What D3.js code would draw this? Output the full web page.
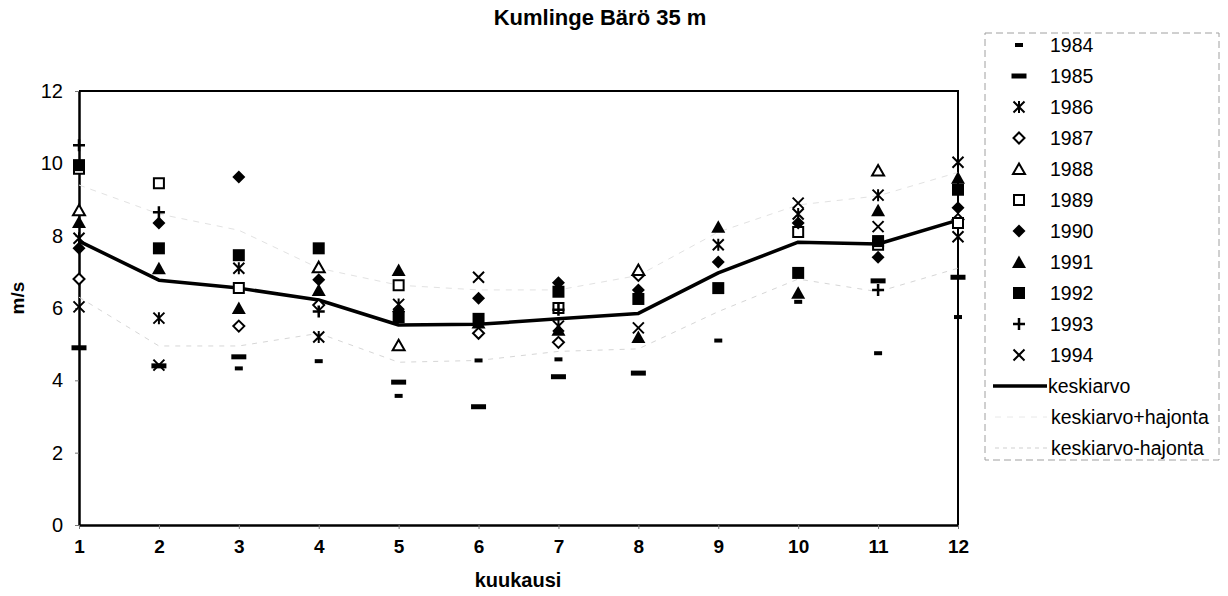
<!DOCTYPE html>
<html>
<head>
<meta charset="utf-8">
<script src="https://cdn.jsdelivr.net/npm/d3@7"></script>
<style>
  body { margin: 0; background: #fff; }
  text { font-family: Arial, "Liberation Sans", sans-serif; fill: #000; }
</style>
</head>
<body>
<svg id="chart" width="1228" height="596"></svg>
<script>
// Monthly mean wind speed (m/s) at Kumlinge Bärö, 35 m, per year
const months = [1, 2, 3, 4, 5, 6, 7, 8, 9, 10, 11, 12];
const yTicks = [0, 2, 4, 6, 8, 10, 12];
const years = ["1984", "1985", "1986", "1987", "1988", "1989", "1990", "1991", "1992", "1993", "1994"];

const v1984 = [null, null, 4.33, 4.53, 3.57, 4.55, 4.58, null, 5.1, 6.17, 4.75, 5.75];
const v1985 = [4.9, 4.4, 4.65, null, 3.95, 3.27, 4.1, 4.2, null, null, 6.75, 6.85];
const v1986 = [7.93, 5.72, 7.1, 5.2, 6.1, null, 5.5, null, 7.75, 8.6, 9.12, 7.97];
const v1987 = [6.8, null, 5.5, 6.08, null, 5.3, 5.05, 6.9, null, null, null, 8.45];
const v1988 = [8.7, null, null, 7.13, 4.97, null, null, 7.05, null, null, 9.8, null];
const v1989 = [9.85, 9.45, 6.55, null, 6.63, null, 6.0, null, null, 8.1, 7.75, 8.35];
const v1990 = [7.65, 8.35, 9.62, 6.78, 5.9, 6.27, 6.7, 6.5, 7.27, 8.35, 7.4, 8.77];
const v1991 = [8.38, 7.1, 6.0, 6.5, 7.05, 5.6, 5.4, 5.2, 8.25, 6.42, 8.7, 9.6];
const v1992 = [9.95, 7.65, 7.46, 7.65, 5.75, 5.7, 6.45, 6.25, 6.55, 6.97, 7.85, 9.27];
const v1993 = [10.5, 8.65, null, 5.9, null, null, 5.95, null, null, null, 6.5, null];
const v1994 = [6.03, 4.42, null, null, null, 6.85, null, 5.45, null, 8.9, 8.25, 10.03];

const keskiarvo      = [7.85, 6.77, 6.55, 6.22, 5.53, 5.55, 5.7, 5.85, 6.97, 7.82, 7.77, 8.43];
const keskiarvoPlus  = [9.4, 8.6, 8.15, 7.1, 6.63, 6.5, 6.5, 6.9, 8.1, 8.85, 9.1, 9.75];
const keskiarvoMinus = [6.3, 4.95, 4.95, 5.3, 4.5, 4.55, 4.8, 4.87, 5.9, 6.8, 6.45, 7.1];

const yearValues = [v1984, v1985, v1986, v1987, v1988, v1989, v1990, v1991, v1992, v1993, v1994];

// ---- marker shapes ----
const shape = {
  dashSmall: { draw(c) { c.rect(-4, -2, 8, 4); } },
  dashWide:  { draw(c) { c.rect(-7.5, -2.5, 15, 5); } },
  asterisk:  { draw(c) { const r = 5.5; c.moveTo(-r, -r); c.lineTo(r, r); c.moveTo(-r, r); c.lineTo(r, -r); c.moveTo(0, -r - 0.5); c.lineTo(0, r + 0.5); } },
  diamond:   { draw(c) { const w = 6.5, h = 6.5; c.moveTo(0, -h); c.lineTo(w, 0); c.lineTo(0, h); c.lineTo(-w, 0); c.closePath(); } },
  triangle:  { draw(c) { c.moveTo(0, -6.5); c.lineTo(7, 6); c.lineTo(-7, 6); c.closePath(); } },
  square:    { draw(c) { c.rect(-6, -6, 12, 12); } },
  plus:      { draw(c) { const r = 6; c.moveTo(-r, 0); c.lineTo(r, 0); c.moveTo(0, -r); c.lineTo(0, r); } },
  cross:     { draw(c) { const r = 5.5; c.moveTo(-r, -r); c.lineTo(r, r); c.moveTo(-r, r); c.lineTo(r, -r); } }
};
const hollow = {
  diamond:  { draw(c) { const w = 5.5; c.moveTo(0, -w); c.lineTo(w, 0); c.lineTo(0, w); c.lineTo(-w, 0); c.closePath(); } },
  triangle: { draw(c) { c.moveTo(0, -5.5); c.lineTo(6, 5); c.lineTo(-6, 5); c.closePath(); } },
  square:   { draw(c) { c.rect(-5, -5, 10, 10); } }
};

const styles = [
  { type: shape.dashSmall, fill: "#000", stroke: "none" },
  { type: shape.dashWide,  fill: "#000", stroke: "none" },
  { type: shape.asterisk,  fill: "none", stroke: "#000", sw: 2 },
  { type: hollow.diamond,  fill: "#fff", stroke: "#000", sw: 2 },
  { type: hollow.triangle, fill: "#fff", stroke: "#000", sw: 2 },
  { type: hollow.square,   fill: "#fff", stroke: "#000", sw: 2 },
  { type: shape.diamond,   fill: "#000", stroke: "none" },
  { type: shape.triangle,  fill: "#000", stroke: "none" },
  { type: shape.square,    fill: "#000", stroke: "none" },
  { type: shape.plus,      fill: "none", stroke: "#000", sw: 2.5 },
  { type: shape.cross,     fill: "none", stroke: "#000", sw: 2 }
];

const svg = d3.select("#chart");
const plotL = 79, plotR = 958, plotT = 91, plotB = 525;

const x = d3.scaleLinear().domain([1, 12]).range([plotL, plotR]);
const y = d3.scaleLinear().domain([0, 12]).range([plotB, plotT]);

// title
svg.append("text").attr("x", 600).attr("y", 25).attr("text-anchor", "middle")
  .style("font-size", "22px").style("font-weight", "bold").text("Kumlinge Bärö 35 m");

// frame (top and right edges)
svg.append("path")
  .attr("d", `M${plotL},${plotT}H${plotR}V${plotB}`)
  .attr("fill", "none").attr("stroke", "#000").attr("stroke-width", 2);

// axes
const yAxis = svg.append("g").attr("transform", `translate(${plotL},0)`)
  .call(d3.axisLeft(y).tickValues(yTicks).tickSize(4).tickSizeOuter(0).tickPadding(12));
yAxis.selectAll("text").style("font-size", "20px");
const xAxis = svg.append("g").attr("transform", `translate(0,${plotB})`)
  .call(d3.axisBottom(x).tickValues(months).tickSize(4).tickSizeOuter(0).tickPadding(11));
xAxis.selectAll("text").style("font-size", "19px").style("font-weight", "bold");
[yAxis, xAxis].forEach(a => {
  a.select(".domain").attr("stroke-width", 2.5);
  a.selectAll(".tick line").attr("stroke", "#777").attr("stroke-width", 1);
});

svg.append("text").attr("x", 518).attr("y", 587).attr("text-anchor", "middle")
  .style("font-size", "20px").style("font-weight", "bold").text("kuukausi");
svg.append("text").attr("transform", "translate(24,298) rotate(-90)").attr("text-anchor", "middle")
  .style("font-size", "19px").style("font-weight", "bold").text("m/s");

// mean and mean ± deviation lines (deviation lines are very faint)
const line = d3.line().x((d, i) => x(months[i])).y(d => y(d));
svg.append("path").attr("d", line(keskiarvoPlus)).attr("fill", "none")
  .attr("stroke", "#e2e2e2").attr("stroke-width", 1).attr("stroke-dasharray", "6,6");
svg.append("path").attr("d", line(keskiarvoMinus)).attr("fill", "none")
  .attr("stroke", "#d6d6d6").attr("stroke-width", 1).attr("stroke-dasharray", "5,6");
svg.append("path").attr("d", line(keskiarvo)).attr("fill", "none")
  .attr("stroke", "#000").attr("stroke-width", 3.5).attr("stroke-linejoin", "round");

// yearly markers
const sym = d3.symbol().size(144);
yearValues.forEach((vals, k) => {
  const st = styles[k];
  svg.append("g").selectAll("path")
    .data(vals.map((v, i) => ({ m: months[i], v })).filter(d => d.v != null))
    .join("path")
    .attr("transform", d => `translate(${x(d.m)},${y(d.v)})`)
    .attr("d", sym.type(st.type)())
    .attr("fill", st.fill).attr("stroke", st.stroke).attr("stroke-width", st.sw || 0);
});

// legend
const lg = svg.append("g");
lg.append("rect").attr("x", 985).attr("y", 33).attr("width", 234).attr("height", 427)
  .attr("fill", "none").attr("stroke", "#a0a0a0").attr("stroke-width", 1).attr("stroke-dasharray", "7,4");
const rowY = i => 45 + i * 31;
years.forEach((yr, k) => {
  const st = styles[k];
  lg.append("path").attr("transform", `translate(1019,${rowY(k)})`)
    .attr("d", sym.type(st.type)())
    .attr("fill", st.fill).attr("stroke", st.stroke).attr("stroke-width", st.sw || 0);
  lg.append("text").attr("x", 1050).attr("y", rowY(k)).attr("dy", "0.35em")
    .style("font-size", "19.5px").text(yr);
});
const lineItems = [
  { label: "keskiarvo", stroke: "#000", sw: 3.5, dash: null, x1: 993, tx: 1048 },
  { label: "keskiarvo+hajonta", stroke: "#e8e8e8", sw: 1, dash: "6,6", x1: 995, tx: 1051 },
  { label: "keskiarvo-hajonta", stroke: "#cfcfcf", sw: 1, dash: "4,4", x1: 995, tx: 1051 }
];
lineItems.forEach((it, j) => {
  const yy = rowY(11 + j);
  lg.append("line").attr("x1", it.x1).attr("x2", 1047).attr("y1", yy).attr("y2", yy)
    .attr("stroke", it.stroke).attr("stroke-width", it.sw).attr("stroke-dasharray", it.dash);
  lg.append("text").attr("x", it.tx).attr("y", yy).attr("dy", "0.35em")
    .style("font-size", "19.5px").text(it.label);
});
</script>
</body>
</html>
